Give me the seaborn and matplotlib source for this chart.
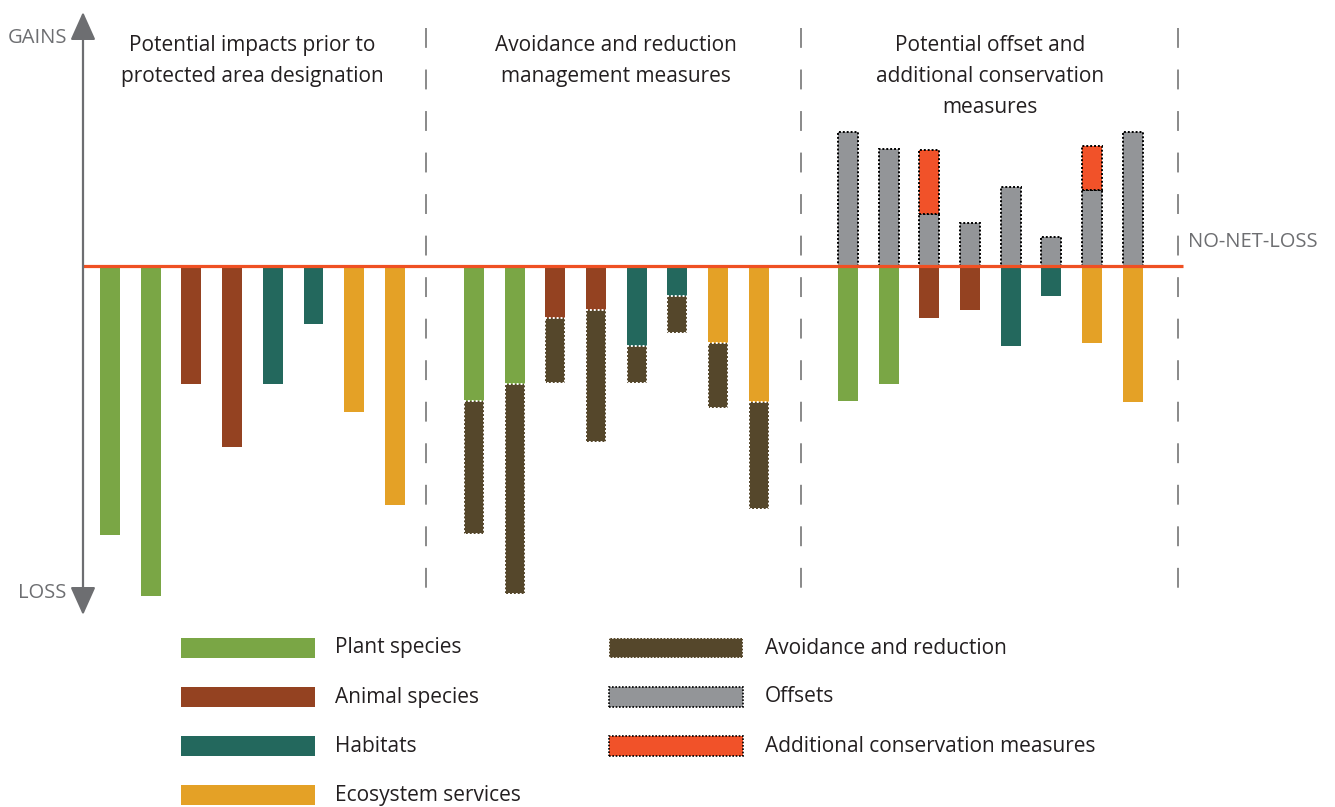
import matplotlib
matplotlib.use("Agg")
import matplotlib.pyplot as plt
from matplotlib.patches import Rectangle
import numpy as np
import pandas as pd
import seaborn as sns

# ---------------- data (arbitrary units, loss positive) ----------------
categories = ["Plant species", "Plant species", "Animal species", "Animal species",
              "Habitats", "Habitats", "Ecosystem services", "Ecosystem services"]
impact_loss = [269, 330, 118, 181, 118, 58, 146, 239]          # panel 1
residual_loss = [135, 118, 52, 44, 80, 30, 77, 136]            # panels 2 & 3
avoidance = [133, 210, 65, 132, 37, 37, 65, 107]               # panel 2 (dark)
offsets = [134, 117, 52, 43, 79, 29, 76, 134]                  # panel 3 gains (grey)
additional = [0, 0, 64, 0, 0, 0, 44, 0]                        # panel 3 extra (red)

panel_titles = ["Potential impacts prior to\nprotected area designation",
                "Avoidance and reduction\nmanagement measures",
                "Potential offset and\nadditional conservation\nmeasures"]
legend_left = ["Plant species", "Animal species", "Habitats", "Ecosystem services"]
legend_right = ["Avoidance and reduction", "Offsets", "Additional conservation measures"]

palette = {"Plant species": "#7aa645", "Animal species": "#944221",
           "Habitats": "#23685d", "Ecosystem services": "#e4a126"}
c_avoid = "#55472b"
c_offset = "#939598"
c_add = "#f15229"
c_line = "#ef5023"
c_grey = "#6d6e71"
c_text = "#231f20"

group_start = [0.0, 8.94, 18.13]
bar_w = 0.49

# ---------------- build frame ----------------
rows = []
for g, vals in enumerate([impact_loss, residual_loss, residual_loss]):
    for i, v in enumerate(vals):
        rows.append({"pos": group_start[g] + i, "value": -v, "cat": categories[i]})
df = pd.DataFrame(rows)

sns.set_theme(style="white")
plt.rcParams["font.family"] = ["Open Sans", "DejaVu Sans"]

fig = plt.figure(figsize=(13.35, 8.07), dpi=100)
ax = fig.add_axes([0, 0, 1, 1])

def X(px):
    return (px - 110) / 40.7

def Y(py):
    return 266 - py

sns.barplot(data=df, x="pos", y="value", hue="cat", palette=palette,
            native_scale=True, dodge=False, width=bar_w, errorbar=None,
            saturation=1, legend=False, ax=ax, linewidth=0, zorder=2)

pos2 = np.array(group_start[1]) + np.arange(8)
pos3 = np.array(group_start[2]) + np.arange(8)

# avoidance parts (panel 2)
ax.bar(pos2, [-a for a in avoidance], bottom=[-r for r in residual_loss], width=bar_w,
       color=c_avoid, edgecolor="white", linewidth=1.4, linestyle=(0, (1, 1)), zorder=3)
# offsets (panel 3)
ax.bar(pos3, offsets, bottom=0, width=bar_w, color=c_offset, edgecolor="black",
       linewidth=1.4, linestyle=(0, (1, 1)), zorder=3)
add_pos = [p for p, a in zip(pos3, additional) if a > 0]
add_val = [a for a in additional if a > 0]
add_bot = [o for o, a in zip(offsets, additional) if a > 0]
ax.bar(add_pos, add_val, bottom=add_bot, width=bar_w, color=c_add, edgecolor="black",
       linewidth=1.4, linestyle=(0, (1, 1)), zorder=3)

# no-net-loss line
ax.plot([X(83), X(1183)], [0, 0], color=c_line, lw=2.3, zorder=4, solid_capstyle="butt")
ax.text(X(1188), Y(242), "NO-NET-LOSS", color=c_grey, fontsize=14.5, ha="left", va="center")

# vertical axis arrow
ax.annotate("", xy=(X(83), Y(12)), xytext=(X(83), Y(615)),
            arrowprops=dict(arrowstyle="<|-|>,head_length=1.45,head_width=0.65",
                            color=c_grey, lw=1.6, shrinkA=0, shrinkB=0), zorder=5)
ax.text(X(37), Y(38), "GAINS", color=c_grey, fontsize=14.5, ha="center", va="center")
ax.text(X(42), Y(593), "LOSS", color=c_grey, fontsize=14.5, ha="center", va="center")

# dashed separators
for px in [426, 801, 1178]:
    ax.plot([X(px), X(px)], [Y(28), Y(605)], color="#808080", lw=1.3,
            linestyle=(0, (11, 12)), zorder=1)

# panel titles
for cx, t in zip([252, 616, 990], panel_titles):
    ax.text(X(cx), Y(35), t, ha="center", va="top", fontsize=15, color=c_text,
            linespacing=1.62)

# legend
for k, lab in enumerate(legend_left):
    y0 = 638 + 49 * k
    ax.add_patch(Rectangle((X(181), Y(y0 + 20)), X(315) - X(181), 20,
                           facecolor=palette[lab], edgecolor="none", zorder=3, clip_on=False))
    ax.text(X(335), Y(y0 + 10), lab, ha="left", va="center", fontsize=15, color=c_text)

leg_right_style = [(c_avoid, "white"), (c_offset, "black"), (c_add, "black")]
for k, (lab, (fc, ec)) in enumerate(zip(legend_right, leg_right_style)):
    y0 = 638 + 49 * k
    ax.add_patch(Rectangle((X(609), Y(y0 + 20)), X(743) - X(609), 20,
                           facecolor=fc, edgecolor=ec, linewidth=1.2,
                           linestyle=(0, (1, 1)), zorder=3))
    ax.text(X(765), Y(y0 + 10), lab, ha="left", va="center", fontsize=15, color=c_text)

ax.set_xlim(X(0), X(1335))
ax.set_ylim(Y(807), Y(0))
ax.axis("off")

fig.savefig("out.png", dpi=100, facecolor="white")
